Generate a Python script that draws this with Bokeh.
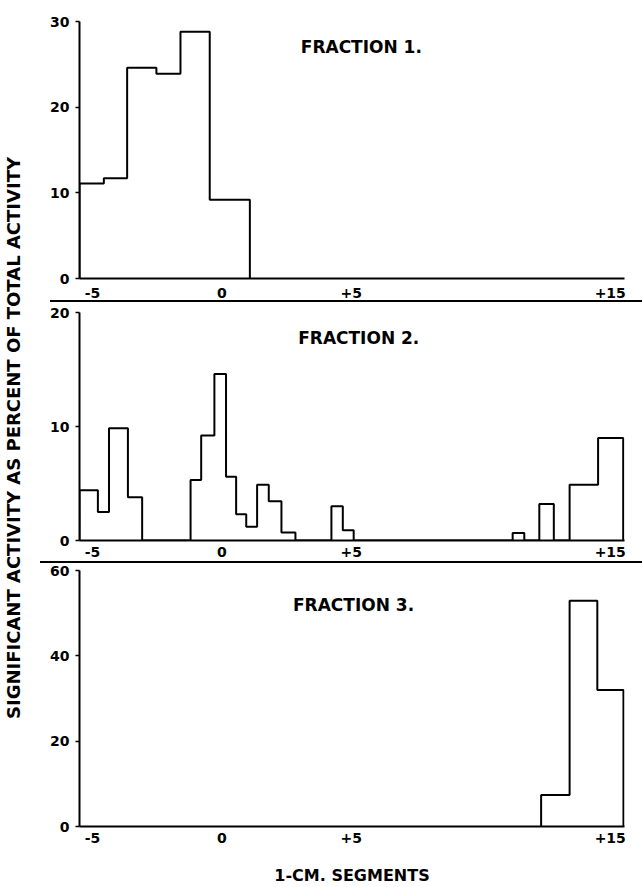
from bokeh.plotting import figure
from bokeh.layouts import column, row
from bokeh.models import FixedTicker, Label, Title, Div
from bokeh.embed import file_html
from bokeh.resources import INLINE

# ---------------- data ----------------
x_ticks = [-5, 0, 5, 15]
x_tick_labels = ["-5", "0", "+5", "+15"]

# Fraction 1: bin edges (1-cm segments) and % of total activity
f1_edges = [-5.5, -4.56, -3.66, -2.53, -1.60, -0.47, 1.08]
f1_values = [11.1, 11.7, 24.6, 23.9, 28.8, 9.2]
f1_yticks = [0, 10, 20, 30]

# Fraction 2
f2_edges = [-5.5, -4.79, -4.36, -3.63, -3.08, -1.21, -0.80, -0.29, 0.16, 0.55,
            0.94, 1.36, 1.81, 2.30, 2.84, 4.23, 4.67, 5.09, 11.23, 11.68,
            12.26, 12.82, 13.43, 14.53, 15.50]
f2_values = [4.4, 2.5, 9.85, 3.8, 0, 5.3, 9.2, 14.6, 5.6, 2.3,
             1.2, 4.9, 3.45, 0.7, 0, 3.0, 0.9, 0, 0.65, 0,
             3.2, 0, 4.9, 9.0]
f2_yticks = [0, 10, 20]

# Fraction 3
f3_edges = [12.33, 13.43, 14.50, 15.51]
f3_values = [7.4, 52.9, 32.0]
f3_yticks = [0, 20, 40, 60]

titles = ["FRACTION  1.", "FRACTION  2.", "FRACTION  3."]
y_title = "SIGNIFICANT ACTIVITY AS PERCENT OF TOTAL ACTIVITY"
x_title = "1-CM. SEGMENTS"

FONT = "DejaVu Sans"
X_RANGE = (-5.5, 15.55)


def outline(edges, values):
    xs, ys = [edges[0]], [0]
    for i, v in enumerate(values):
        xs += [edges[i], edges[i + 1]]
        ys += [v, v]
    xs.append(edges[-1])
    ys.append(0)
    return xs, ys


def panel(edges, values, yticks, title, title_x, title_y, height,
          top, bottom, label_standoff, xlabel=None):
    p = figure(width=606, height=height, x_range=X_RANGE,
               y_range=(0, yticks[-1]), output_backend="svg",
               toolbar_location=None, min_border_left=43,
               min_border_right=18, min_border_top=top,
               min_border_bottom=bottom)
    p.grid.visible = False
    p.outline_line_color = None
    xs, ys = outline(edges, values)
    p.line(xs, ys, line_color="black", line_width=2)

    p.xaxis.ticker = FixedTicker(ticks=x_ticks)
    p.xaxis.major_label_overrides = dict(zip(x_ticks, x_tick_labels))
    p.xaxis.major_tick_out = 0
    p.xaxis.major_tick_in = 0
    p.xaxis.minor_tick_line_color = None
    p.xaxis.major_label_standoff = label_standoff

    p.yaxis.ticker = FixedTicker(ticks=yticks)
    p.yaxis.major_tick_out = 4
    p.yaxis.major_tick_in = 0
    p.yaxis.minor_tick_line_color = None
    p.yaxis.major_label_standoff = 6

    for ax in (p.xaxis, p.yaxis):
        ax.axis_line_width = 2
        ax.axis_line_color = "black"
        ax.major_tick_line_color = "black"
        ax.major_tick_line_width = 1.5
        ax.major_label_text_font = FONT
        ax.major_label_text_font_style = "bold"
        ax.major_label_text_font_size = "14px"
        ax.major_label_text_color = "black"

    if xlabel:
        p.xaxis.axis_label = xlabel
        p.xaxis.axis_label_text_font = FONT
        p.xaxis.axis_label_text_font_style = "bold"
        p.xaxis.axis_label_text_font_size = "16px"
        p.xaxis.axis_label_text_color = "black"
        p.xaxis.axis_label_standoff = 20

    p.add_layout(Label(x=title_x, y=title_y, text=title, text_align="center",
                       text_baseline="middle", text_font=FONT,
                       text_font_style="bold", text_font_size="17px",
                       text_color="black"))
    return p


def separator(left):
    return Div(text="", width=606 - left, height=2,
               margin=(0, 0, 0, left),
               styles={"background-color": "black"})


p1 = panel(f1_edges, f1_values, f1_yticks, titles[0], 5.5, 27.0,
           300, 21, 22, 9)
s1 = separator(14)
p2 = panel(f2_edges, f2_values, f2_yticks, titles[1], 5.4, 17.8,
           259, 10, 21, 6)
s2 = separator(4)
p3 = panel(f3_edges, f3_values, f3_yticks, titles[2], 5.2, 51.9,
           324, 7, 61, 6, xlabel=x_title)

yfig = figure(width=36, height=887, output_backend="svg",
              toolbar_location=None, x_axis_location=None,
              y_axis_location=None, min_border=0, min_border_left=7,
              min_border_bottom=12)
yfig.grid.visible = False
yfig.outline_line_color = None
yfig.add_layout(Title(text=y_title, align="center", text_font=FONT,
                      text_font_style="bold", text_font_size="18px",
                      text_color="black", standoff=0, offset=0), "left")

layout = row(yfig, column(p1, s1, p2, s2, p3))

open("out.html", "w").write(file_html(layout, INLINE))
